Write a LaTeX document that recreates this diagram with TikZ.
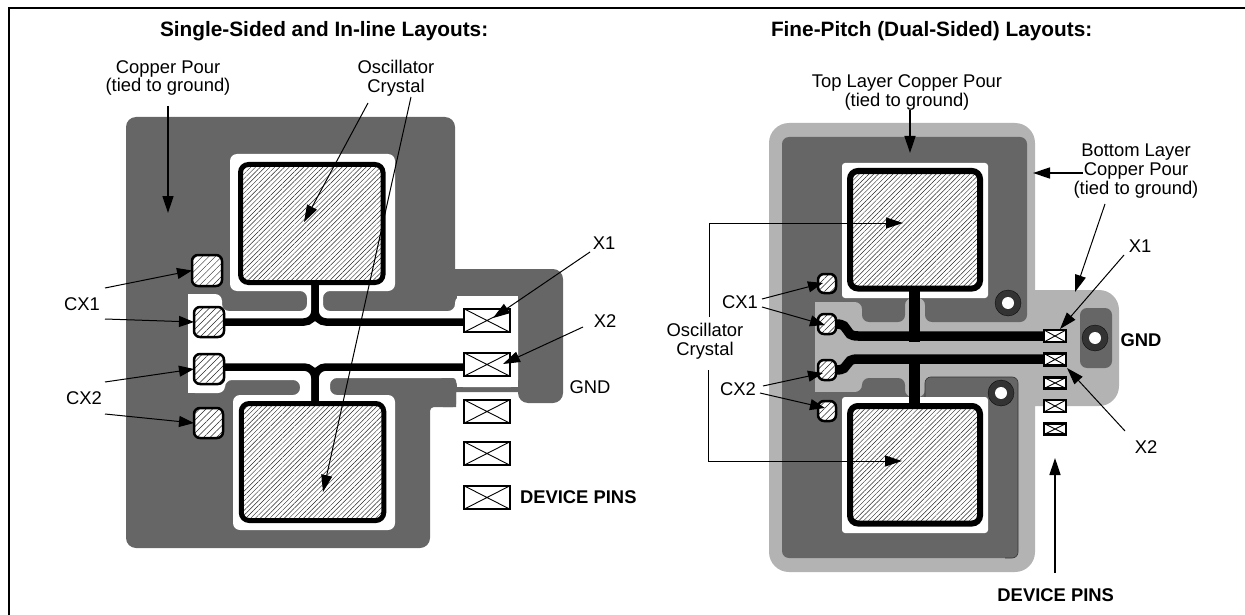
\documentclass[tikz,border=0pt]{standalone}
\usepackage{fontspec}
\setmainfont{Liberation Sans}
\usetikzlibrary{arrows.meta,patterns.meta}
\definecolor{pourdark}{HTML}{666666}
\definecolor{pourlight}{HTML}{B3B3B3}
\definecolor{viadark}{HTML}{333333}
\tikzset{
  x=1pt,y=-1pt,
  lbl/.style={inner sep=0pt,outer sep=0pt,align=center,font=\fontsize{18.4}{18.8}\selectfont},
  blbl/.style={inner sep=0pt,outer sep=0pt,align=center,font=\bfseries\fontsize{18.4}{19}\selectfont},
  tbl/.style={inner sep=0pt,outer sep=0pt,align=center,font=\bfseries\fontsize{20.8}{22}\selectfont},
  arr/.style={draw=black,line width=1pt,-{Triangle[length=17pt,width=11pt]}},
  arrb/.style={draw=black,line width=1.5pt,-{Triangle[length=17pt,width=11pt]}},
  arrc/.style={draw=black,line width=1pt,-{Triangle[length=15pt,width=11pt]}},
  xtal/.style={draw=black,inner sep=0pt,outer sep=0pt,rounded corners=8pt,
    preaction={fill=white},
    pattern={Lines[angle=45,distance=3.4pt,line width=.45pt]},pattern color=black!85},
  capad/.style={draw=black,line width=2.5pt,inner sep=0pt,outer sep=0pt,rounded corners=6pt,
    preaction={fill=white},
    pattern={Lines[angle=45,distance=4.6pt,line width=.5pt]},pattern color=black!85},
  devpin/.style={draw=black,fill=white,inner sep=0pt,outer sep=0pt,
    path picture={\draw[line width=.9pt,black]
      (path picture bounding box.north west)--(path picture bounding box.south east)
      (path picture bounding box.south west)--(path picture bounding box.north east);}},
  via/.style={circle,fill=viadark,draw=black,line width=.3pt,inner sep=0pt,minimum size=26pt,outer sep=0pt},
  viahole/.style={circle,fill=white,inner sep=0pt,minimum size=12pt,outer sep=0pt},
}
\begin{document}
\begin{tikzpicture}
\useasboundingbox (0,0) rectangle (1245,615);
% frame
\draw[line width=2pt,black] (9,615) -- (9,8) -- (1245,8);

% ---------- left layout: copper pour
\fill[pourdark,rounded corners=10pt] (126,117) -- (455,117) [sharp corners] -- (455,269)
  [rounded corners=10pt] -- (563,269) -- (563,403) -- (518,403) [sharp corners] -- (518,392) -- (456,392) -- (456,407)
  [rounded corners=4pt] -- (430,407) [rounded corners=10pt] -- (430,548) -- (126,548) -- cycle;
\fill[white,rounded corners=7pt] (188,294) -- (222,294) -- (222,311) -- (307,311) -- (307,291)
  -- (230,291) -- (230,154) -- (395,154) -- (395,291) -- (323,291) -- (323,311) -- (455,311)
  -- (455,296) -- (518,296) -- (518,387) -- (456,387) -- (456,378) -- (330,378) -- (330,395)
  -- (395,395) -- (395,530) -- (233,530) -- (233,395) -- (300,395) -- (300,380) -- (225,380)
  -- (225,393) -- (188,393) -- cycle;
\fill[white] (188,294) rectangle (215,393);
\fill[white] (457,296) rectangle (518,387);
\fill[pourdark,rounded corners=3pt] (440,378) -- (456,378) -- (456,407) -- (440,407) -- cycle;

% ---------- left layout: parts
\node[xtal,line width=5pt,minimum width=142.5pt,minimum height=118pt] (xa) at (311.75,223.5) {};
\node[xtal,line width=5pt,minimum width=142.5pt,minimum height=117pt] (xb) at (312.5,462) {};
\node[capad,minimum width=30pt,minimum height=31pt] (pa) at (207,270.5) {};
\node[capad,minimum width=30pt,minimum height=30pt] (pb) at (209,322) {};
\node[capad,minimum width=30pt,minimum height=30pt] (pc) at (209,369) {};
\node[capad,minimum width=29pt,minimum height=30pt] (pd) at (208.5,423) {};
\node[devpin,line width=2pt,minimum width=46pt,minimum height=23.5pt] (la) at (487,320.5) {};
\node[devpin,line width=2pt,minimum width=46pt,minimum height=23.5pt] (lb) at (487,364.5) {};
\node[devpin,line width=2pt,minimum width=46pt,minimum height=23.5pt] (lc) at (487,411.5) {};
\node[devpin,line width=2pt,minimum width=46pt,minimum height=23.5pt] (ld) at (487,453.5) {};
\node[devpin,line width=2pt,minimum width=46pt,minimum height=23.5pt] (le) at (487,497.5) {};
\coordinate (ja) at (315,322);
\coordinate (jb) at (315,367);
\draw[line width=7.5pt,rounded corners=11pt] (pb.east |- ja) -- (ja) -- (ja |- xa.south);
\draw[line width=7.5pt,rounded corners=11pt] (la.west |- ja) -- (ja) -- (ja |- xa.south);
\draw[line width=7.5pt,rounded corners=11pt] (pc.east |- jb) -- (jb) -- (jb |- xb.north);
\draw[line width=7.5pt,rounded corners=11pt] (lb.west |- jb) -- (jb) -- (jb |- xb.north);

% ---------- left layout: labels
\node[tbl,anchor=west] (ttl) at (160,31) {Single-Sided and In-line Layouts:};
\node[lbl] (cp) at (168,78) {Copper Pour\\(tied to ground)};
\node[lbl] (oc) at (396,78) {Oscillator\\Crystal};
\node[lbl] (cxa) at (82,304) {CX1};
\node[lbl] (cxb) at (84,398) {CX2};
\node[lbl] (xla) at (604,243) {X1};
\node[lbl] (xlb) at (605,321) {X2};
\node[lbl] (gl) at (590,387) {GND};
\node[blbl,anchor=west] (dl) at (520,497) {DEVICE PINS};

% ---------- left layout: leaders
\coordinate (a1s) at (168,106);   \coordinate (a1e) at (168,213);
\coordinate (a2s) at (368,103);   \coordinate (a2e) at (304,222);
\coordinate (a3s) at (411,97);    \coordinate (a3e) at (323,492);
\coordinate (a4s) at (590,252);   \coordinate (a4e) at (493,318);
\coordinate (a5s) at (583,327);   \coordinate (a5e) at (503,364);
\draw[arrb] (a1s) -- (a1e);
\draw[arr] (a2s) -- (a2e);
\draw[arr] (a3s) -- (a3e);
\draw[arr] (a4s) -- (a4e);
\draw[arr] (a5s) -- (a5e);
\coordinate (b1s) at (105,288); \coordinate (b2s) at (105,319);
\coordinate (b3s) at (105,382); \coordinate (b4s) at (105,414);
\draw[arrc] (b1s) -- (pa.west);
\draw[arrc] (b2s) -- (pb.west);
\draw[arrc] (b3s) -- (pc.west);
\draw[arrc] (b4s) -- (pd.west);

% ---------- right layout: copper
\fill[pourlight,rounded corners=20pt] (769,123) -- (1035,123) [sharp corners] -- (1035,290)
  [rounded corners=20pt] -- (1119,290) -- (1119,406) [sharp corners] -- (1035,406)
  [rounded corners=20pt] -- (1035,572) -- (769,572) -- cycle;
\fill[pourdark,rounded corners=7pt] (782,137) -- (1027,137) -- (1027,322) -- (925,322) -- (925,298)
  -- (905,298) -- (905,322) -- (862,322) -- (862,302) -- (815,302) -- (815,392) -- (862,392)
  -- (862,378) -- (905,378) -- (905,397) -- (925,397) -- (925,377) -- (1018,377) -- (1018,558)
  -- (782,558) -- cycle;
\fill[pourlight] (815,302) rectangle (856,392);
\draw[viadark,line width=.7pt,rounded corners=6pt] (925,397) -- (925,377) -- (1018,377) -- (1018,558) -- (1005,558);
\fill[pourdark,rounded corners=7pt] (1080,308) rectangle (1112,368);
\fill[white,rounded corners=3pt] (842,163) rectangle (988,298);
\fill[white,rounded corners=3pt] (842,397) rectangle (988,533);

% ---------- right layout: parts
\node[xtal,line width=6pt,minimum width=130pt,minimum height=117.5pt] (xc) at (915,229.75) {};
\node[xtal,line width=6pt,minimum width=130pt,minimum height=117.5pt] (xd) at (915,464.75) {};
\node[via] (va) at (1008,303) {}; \node[viahole] (vah) at (va) {};
\node[via] (vb) at (1001,393) {}; \node[viahole] (vbh) at (vb) {};
\node[via] (vc) at (1095,338) {}; \node[viahole] (vch) at (vc) {};
\coordinate (ka) at (914.5,336);
\coordinate (kb) at (914.5,359);
\draw[line width=11pt] (ka |- xc.south) -- ([yshift=-6pt]ka);
\draw[line width=11pt] (kb |- xd.north) -- (kb);
\node[devpin,line width=2.2pt,minimum width=22pt,minimum height=12pt] (ra) at (1055,336) {};
\node[devpin,line width=2.2pt,minimum width=22pt,minimum height=12pt] (rb) at (1055,359.5) {};
\node[devpin,line width=2.2pt,minimum width=22pt,minimum height=11pt] (rc) at (1055,383) {};
\node[devpin,line width=2.2pt,minimum width=22pt,minimum height=12pt] (rd) at (1055,406) {};
\node[devpin,line width=2.2pt,minimum width=22pt,minimum height=11pt] (re) at (1055,429) {};
\draw[line width=9.5pt] (827,324) -- (836,324) .. controls (852,324) and (842,336) .. (858,336) -- (ra.west |- ka);
\draw[line width=9.5pt] (827,370) -- (836,370) .. controls (852,370) and (842,359) .. (858,359) -- (rb.west |- kb);
\node[capad,minimum width=18pt,minimum height=19pt] (qa) at (827,283.5) {};
\node[capad,minimum width=18pt,minimum height=20pt] (qb) at (827,324) {};
\node[capad,minimum width=18pt,minimum height=20pt] (qc) at (827,370) {};
\node[capad,minimum width=18pt,minimum height=20pt] (qd) at (827,411) {};

% ---------- right layout: labels
\node[tbl,anchor=west] (ttr) at (771,31) {Fine-Pitch (Dual-Sided) Layouts:};
\node[lbl] (tl) at (907,92.5) {Top Layer Copper Pour\\(tied to ground)};
\node[lbl] (bl) at (1136,171) {Bottom Layer\\Copper Pour\\(tied to ground)};
\node[lbl] (ocr) at (705,341.5) {Oscillator\\Crystal};
\node[lbl] (cxc) at (740,302) {CX1};
\node[lbl] (cxd) at (738,389) {CX2};
\node[lbl] (xra) at (1140,246) {X1};
\node[lbl] (xrb) at (1146,447) {X2};
\node[blbl] (gr) at (1141,340) {GND};
\node[blbl,anchor=east] (dr) at (1114,595) {DEVICE PINS};

% ---------- right layout: leaders
\coordinate (c1s) at (910,110);  \coordinate (c1e) at (910,153);
\coordinate (c2s) at (1083,173); \coordinate (c2e) at (1033,173);
\coordinate (c3s) at (1105,204); \coordinate (c3e) at (1075,292);
\coordinate (c4s) at (1124,255); \coordinate (c4e) at (1060,329);
\coordinate (c5s) at (1125,431); \coordinate (c5e) at (1067,368);
\coordinate (c6s) at (1055,573); \coordinate (c6e) at (1055,458);
\coordinate (o1) at (709,317);   \coordinate (o1c) at (709,223); \coordinate (o1e) at (903,223);
\coordinate (o2) at (708,370);   \coordinate (o2c) at (708,461); \coordinate (o2e) at (902,461);
\draw[arrb] (c1s) -- (c1e);
\draw[arrb] (c2s) -- (c2e);
\draw[arr] (c3s) -- (c3e);
\draw[arr] (c4s) -- (c4e);
\draw[arr] (c5s) -- (c5e);
\draw[arrb] (c6s) -- (c6e);
\draw[arr] (o1) -- (o1c) -- (o1e);
\draw[arr] (o2) -- (o2c) -- (o2e);
\coordinate (d1s) at (762,299); \coordinate (d1e) at (823,283);
\coordinate (d2s) at (762,307); \coordinate (d2e) at (825,325);
\coordinate (d3s) at (763,386); \coordinate (d3e) at (823,373);
\coordinate (d4s) at (760,393); \coordinate (d4e) at (825,408);
\draw[arrc] (d1s) -- (d1e);
\draw[arrc] (d2s) -- (d2e);
\draw[arrc] (d3s) -- (d3e);
\draw[arrc] (d4s) -- (d4e);
\end{tikzpicture}
\end{document}
